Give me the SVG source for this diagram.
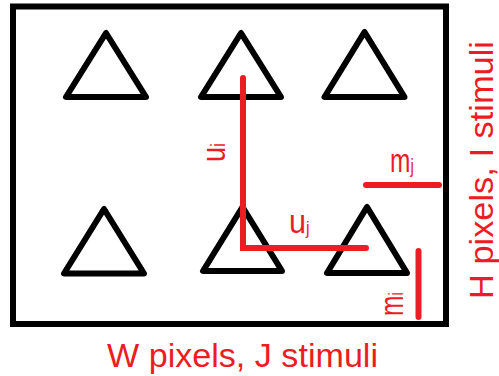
<svg xmlns="http://www.w3.org/2000/svg" width="499" height="376" viewBox="0 0 499 376">
<style>
.tri{fill:none;stroke:#000;stroke-width:6;stroke-linejoin:round;stroke-linecap:round}
.frame{fill:none;stroke:#000;stroke-width:6}
.red{fill:none;stroke:#ed1c24;stroke-width:6;stroke-linecap:round;stroke-linejoin:miter}
.lbl{fill:#ed1c24;font-family:"Liberation Sans",Arial,sans-serif;font-size:34px}
</style>
<rect width="499" height="376" fill="#fff"/>
<g id="frame"><rect class="frame" x="13" y="6.5" width="433" height="317.5"/></g>
<g id="stim-1-1"><polygon class="tri" points="106,33 66,97 146,97"/></g>
<g id="stim-1-2"><polygon class="tri" points="241,33 201,97 281,97"/></g>
<g id="stim-1-3"><polygon class="tri" points="364.5,32 324.5,97 404.5,97"/></g>
<g id="stim-2-1"><polygon class="tri" points="104,209 64,273.5 144,273.5"/></g>
<g id="stim-2-2"><polygon class="tri" points="242.5,207 203,271 282,271"/></g>
<g id="stim-2-3"><polygon class="tri" points="367,207 327,273 407,273"/></g>
<g id="connectors">
<polyline class="red" points="243,78 243,248 366,248"/>
<line class="red" x1="366" y1="185" x2="439" y2="185"/>
<line class="red" x1="418.5" y1="251" x2="418.5" y2="317"/>
</g>
<g id="labels">
<text class="lbl" transform="translate(225,162) rotate(-90) scale(0.8,1)">u<tspan font-size="20">i</tspan></text>
<text class="lbl" transform="translate(289,233) scale(0.9,1)">u<tspan font-size="18" dy="1">j</tspan></text>
<text class="lbl" transform="translate(390,172) scale(0.72,1)">m<tspan font-size="21" dy="1">j</tspan></text>
<text class="lbl" transform="translate(403,316) rotate(-90) scale(0.72,1)">m<tspan font-size="21">i</tspan></text>
<text class="lbl" x="107" y="367" textLength="271" lengthAdjust="spacingAndGlyphs">W pixels, J stimuli</text>
<text class="lbl" transform="translate(493,170) rotate(-90)" text-anchor="middle" textLength="258" lengthAdjust="spacingAndGlyphs">H pixels, I stimuli</text>
</g>
</svg>
